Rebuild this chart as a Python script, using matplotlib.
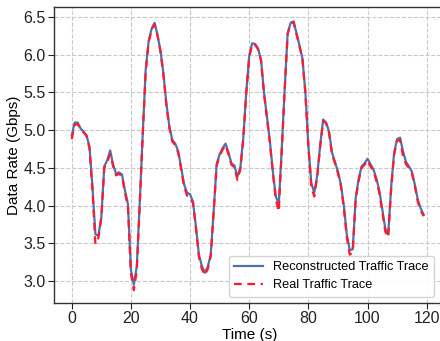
import numpy as np
import matplotlib
matplotlib.use("Agg")
import matplotlib.pyplot as plt

# time axis, one sample per second
time_s = np.arange(120)

reconstructed = [
    4.93, 5.10, 5.10, 5.02, 4.98, 4.93, 4.78, 4.25, 3.62, 3.60,
    3.85, 4.52, 4.60, 4.73, 4.54, 4.42, 4.44, 4.41, 4.20, 4.02,
    3.15, 2.95, 3.20, 4.05, 4.95, 5.80, 6.18, 6.34, 6.42, 6.26,
    6.05, 5.75, 5.35, 5.05, 4.87, 4.82, 4.72, 4.50, 4.28, 4.17,
    4.15, 4.05, 3.72, 3.35, 3.20, 3.11, 3.19, 3.35, 3.94, 4.55,
    4.68, 4.76, 4.82, 4.70, 4.56, 4.53, 4.38, 4.50, 4.90, 5.50,
    5.98, 6.15, 6.14, 6.08, 5.93, 5.50, 5.18, 4.85, 4.45, 4.12,
    4.02, 4.75, 5.55, 6.28, 6.42, 6.44, 6.28, 6.12, 5.95, 5.50,
    4.80, 4.30, 4.17, 4.40, 4.80, 5.14, 5.10, 4.98, 4.70, 4.58,
    4.45, 4.28, 4.00, 3.62, 3.41, 3.42, 4.10, 4.35, 4.52, 4.56,
    4.62, 4.55, 4.48, 4.36, 4.20, 3.95, 3.70, 3.62, 4.25, 4.70,
    4.88, 4.90, 4.72, 4.58, 4.52, 4.45, 4.28, 4.08, 3.96, 3.88,
]

real = [
    4.88, 5.07, 5.08, 5.01, 4.97, 4.92, 4.76, 4.20, 3.49, 3.57,
    3.83, 4.50, 4.58, 4.68, 4.52, 4.40, 4.42, 4.39, 4.17, 3.98,
    3.10, 2.88, 3.15, 4.02, 4.93, 5.78, 6.16, 6.33, 6.40, 6.25,
    6.04, 5.73, 5.33, 5.03, 4.85, 4.80, 4.70, 4.48, 4.25, 4.13,
    4.12, 4.03, 3.70, 3.32, 3.16, 3.08, 3.16, 3.33, 3.92, 4.53,
    4.66, 4.74, 4.80, 4.68, 4.54, 4.51, 4.34, 4.48, 4.88, 5.48,
    5.96, 6.14, 6.13, 6.07, 5.92, 5.48, 5.16, 4.83, 4.43, 4.08,
    3.92, 4.72, 5.53, 6.27, 6.41, 6.43, 6.27, 6.11, 5.94, 5.48,
    4.78, 4.25, 4.12, 4.38, 4.78, 5.12, 5.09, 4.96, 4.68, 4.56,
    4.43, 4.26, 3.97, 3.58, 3.35, 3.38, 4.08, 4.33, 4.50, 4.54,
    4.60, 4.52, 4.46, 4.33, 4.17, 3.92, 3.66, 3.58, 4.22, 4.68,
    4.86, 4.87, 4.66, 4.55, 4.50, 4.43, 4.26, 4.05, 3.93, 3.86,
]

plt.rcParams["font.family"] = ["Liberation Sans", "DejaVu Sans"]

fig = plt.figure(figsize=(4.4, 3.41), dpi=100)
ax = fig.add_axes([54 / 440, 1 - 303 / 341, 1.01 - 54 / 440, (303 - 7) / 341])

ax.plot(time_s, reconstructed, color="#4c72b0", lw=1.6, label="Reconstructed Traffic Trace")
ax.plot(time_s, real, color="#ff1a2e", lw=1.6, ls=(0, (3.5, 2.5)), label="Real Traffic Trace")

ax.set_xlim(-6, 126)
ax.set_ylim(2.71, 6.63)
ax.set_xticks([0, 20, 40, 60, 80, 100, 120])
ax.set_yticks([3.0, 3.5, 4.0, 4.5, 5.0, 5.5, 6.0, 6.5])
ax.grid(True, ls="--", color="#c8c8c8", lw=0.8)
ax.set_axisbelow(True)
ax.tick_params(direction="out", length=4, width=0.8, pad=2, colors="#222222", labelsize=11.5)
for s in ax.spines.values():
    s.set_color("#333333")
    s.set_linewidth(1.0)

ax.set_xlabel("Time (s)", fontsize=11, labelpad=1)
ax.set_ylabel("Data Rate (Gbps)", fontsize=11, labelpad=2)
ax.legend(loc="lower right", fontsize=9.2, frameon=True, fancybox=True,
          framealpha=0.9, edgecolor="#d0d0d0", handlelength=2.3,
          borderaxespad=0.5, bbox_to_anchor=(0.99, 0.0))

fig.savefig("out.png", dpi=100)
